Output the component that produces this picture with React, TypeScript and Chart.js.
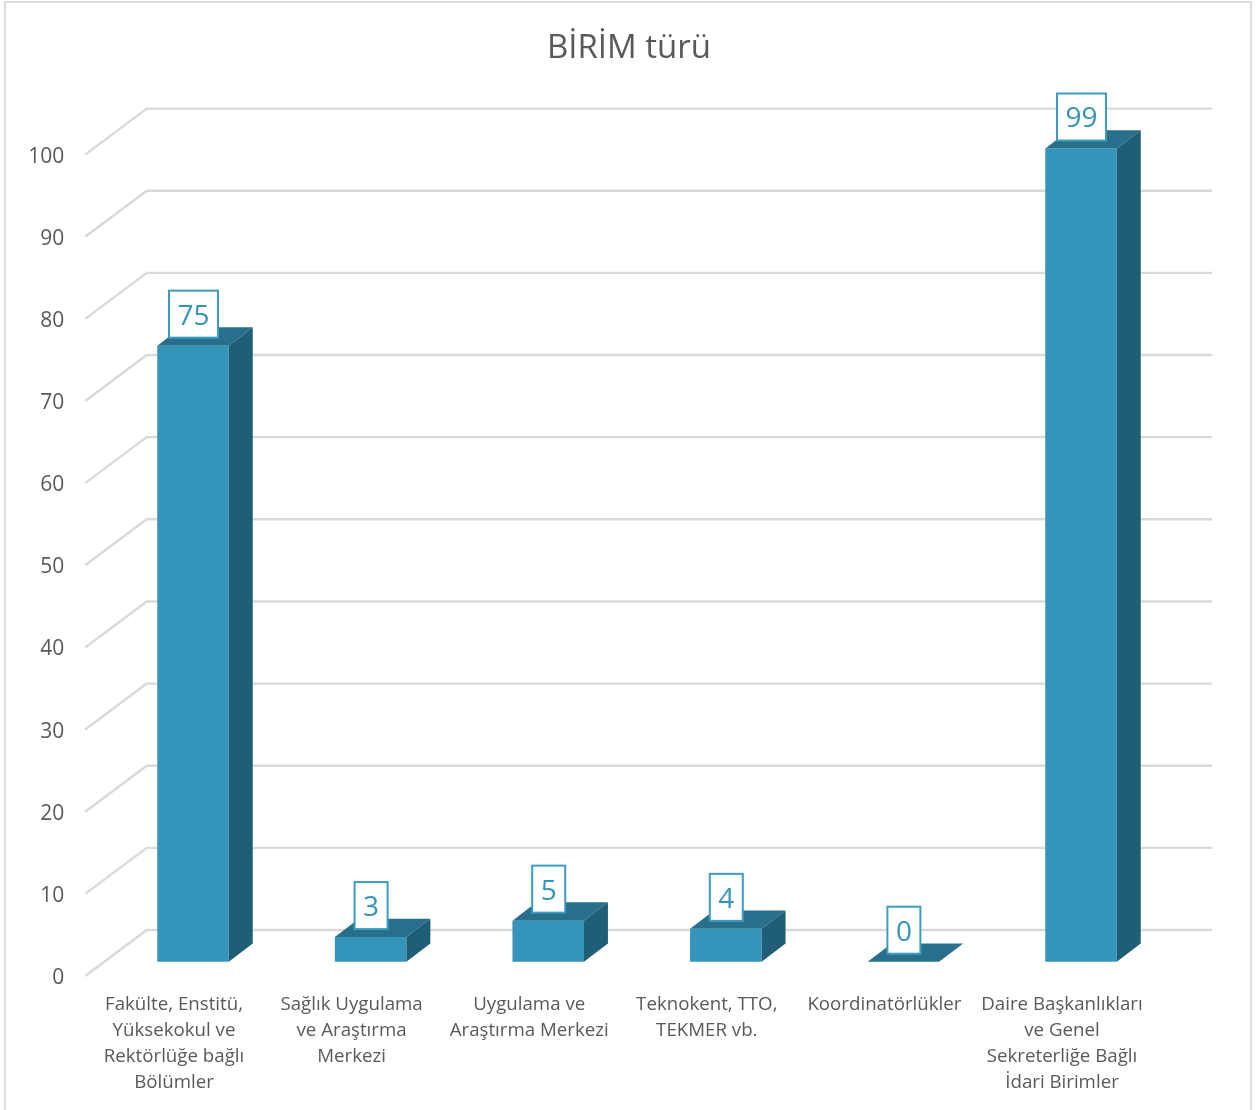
import React, { useEffect, useRef } from "react";
import { Chart, registerables } from "chart.js";

Chart.register(...registerables);

const title = "BİRİM türü";
const categories: string[][] = [
  ["Fakülte, Enstitü,", "Yüksekokul ve", "Rektörlüğe bağlı", "Bölümler"],
  ["Sağlık Uygulama", "ve Araştırma", "Merkezi"],
  ["Uygulama ve", "Araştırma Merkezi"],
  ["Teknokent, TTO,", "TEKMER vb."],
  ["Koordinatörlükler"],
  ["Daire Başkanlıkları", "ve Genel", "Sekreterliğe Bağlı", "İdari Birimler"],
];
const values = [75, 3, 5, 4, 0, 99];

const FONT = "'Open Sans', sans-serif";
const TEXT = "#595959";
const GRID = "#d9d9d9";
const FRONT = "#3494ba";
const TOP = "#276f8b";
const SIDE = "#205e77";

const W = 1258;
const H = 1110;
const PLOT_LEFT = 104.2;
const PLOT_RIGHT = 1169.8;
const PLOT_TOP = 154.6;
const PLOT_BOTTOM = 976;
const WALL_DX = 61.5;
const WALL_DY = 46;
const FLOOR_SHIFT = 19;
const BAR_DX = 24;
const BAR_DY = 18.3;
const BASE_OFFSET = 14.3;
const UNIT = (PLOT_BOTTOM - PLOT_TOP) / 100;
const TITLE_SIZE = 33;
const TITLE_TOP = 28.8;

const wallsPlugin = {
  id: "walls",
  beforeDatasetsDraw(chart: any) {
    const { ctx } = chart;
    const y = chart.scales.y;
    const frontX = chart.chartArea.left - FLOOR_SHIFT;
    const endX = chart.chartArea.right + 42.5;
    ctx.save();
    ctx.strokeStyle = "#dcdcdc";
    ctx.lineWidth = 2;
    ctx.strokeRect(5, 2, 1246, 1112);
    ctx.strokeStyle = GRID;
    ctx.lineWidth = 2.4;
    ctx.lineJoin = "round";
    y.ticks.forEach((t: any) => {
      const py = y.getPixelForValue(t.value);
      ctx.beginPath();
      ctx.moveTo(frontX, py);
      ctx.lineTo(frontX + WALL_DX, py - WALL_DY);
      ctx.lineTo(endX, py - WALL_DY);
      ctx.stroke();
    });
    ctx.restore();
  },
};

const boxesPlugin = {
  id: "boxes",
  afterDatasetsDraw(chart: any) {
    const { ctx } = chart;
    const meta = chart.getDatasetMeta(0);
    ctx.save();
    meta.data.forEach((bar: any, i: number) => {
      const w = bar.width;
      const l = bar.x - w / 2;
      const r = bar.x + w / 2;
      const t = bar.y;
      const b = bar.base;
      ctx.fillStyle = TOP;
      ctx.beginPath();
      ctx.moveTo(l, t);
      ctx.lineTo(l + BAR_DX, t - BAR_DY);
      ctx.lineTo(r + BAR_DX, t - BAR_DY);
      ctx.lineTo(r, t);
      ctx.closePath();
      ctx.fill();
      if (b - t > 0.5) {
        ctx.fillStyle = SIDE;
        ctx.beginPath();
        ctx.moveTo(r, t);
        ctx.lineTo(r + BAR_DX, t - BAR_DY);
        ctx.lineTo(r + BAR_DX, b - BAR_DY);
        ctx.lineTo(r, b);
        ctx.closePath();
        ctx.fill();
      }
      const label = String(values[i]);
      ctx.font = `28px ${FONT}`;
      const tw = ctx.measureText(label).width;
      const bw = Math.round(tw + 17);
      const bh = 47;
      const bx = bar.x - bw / 2 + 0.5;
      const by = t - 8 - bh;
      ctx.fillStyle = "#ffffff";
      ctx.fillRect(bx, by, bw, bh);
      ctx.strokeStyle = "#3f9cc1";
      ctx.lineWidth = 2;
      ctx.strokeRect(bx, by, bw, bh);
      ctx.fillStyle = FRONT;
      ctx.textAlign = "center";
      ctx.textBaseline = "middle";
      ctx.fillText(label, bar.x + 0.5, by + bh / 2 + 2.5);
    });
    ctx.restore();
  },
};

export default function App() {
  const ref = useRef<HTMLCanvasElement>(null);
  useEffect(() => {
    const chart = new Chart(ref.current!, {
      type: "bar",
      data: {
        labels: categories as any,
        datasets: [
          {
            label: title,
            data: values,
            backgroundColor: FRONT,
            yAxisID: "yBars",
            barPercentage: 0.4026,
            categoryPercentage: 1,
            clip: false as any,
          },
        ],
      },
      plugins: [wallsPlugin, boxesPlugin],
      options: {
        animation: false,
        responsive: false,
        devicePixelRatio: 1,
        layout: { padding: 0 },
        plugins: {
          legend: { display: false },
          tooltip: { enabled: false },
          title: {
            display: true,
            text: title,
            color: TEXT,
            font: { family: FONT, size: TITLE_SIZE, weight: "normal", lineHeight: 1.2 },
            padding: { top: TITLE_TOP, bottom: PLOT_TOP - TITLE_TOP - TITLE_SIZE * 1.2 },
          },
        },
        scales: {
          x: {
            grid: { display: false },
            border: { display: false },
            afterFit(s: any) {
              s.height = H - PLOT_BOTTOM;
            },
            ticks: {
              autoSkip: false,
              maxRotation: 0,
              minRotation: 0,
              labelOffset: -FLOOR_SHIFT,
              padding: 7.5,
              color: TEXT,
              font: { family: FONT, size: 18.7, lineHeight: 26 / 18.7 },
            },
          },
          y: {
            min: 0,
            max: 100,
            grid: { display: false, drawTicks: false },
            border: { display: false },
            afterFit(s: any) {
              s.width = PLOT_LEFT;
            },
            ticks: {
              stepSize: 10,
              padding: 40,
              labelOffset: 2,
              color: TEXT,
              font: { family: FONT, size: 21 },
            },
          },
          yBars: {
            position: "right",
            min: -BASE_OFFSET / UNIT,
            max: 100 - BASE_OFFSET / UNIT,
            grid: { display: false, drawTicks: false },
            border: { display: false },
            ticks: { display: false },
            afterFit(s: any) {
              s.width = W - PLOT_RIGHT;
            },
          },
        },
      },
    } as any);
    return () => chart.destroy();
  }, []);
  return (
    <div style={{ position: "absolute", left: 0, top: 0, width: W, height: H, background: "#fff", overflow: "hidden" }}>
      <canvas ref={ref} width={W} height={H} style={{ display: "block" }} />
    </div>
  );
}
